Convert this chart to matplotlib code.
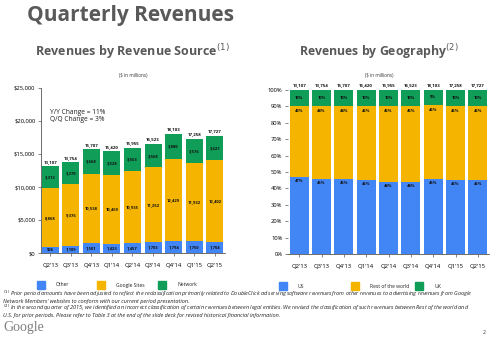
import matplotlib
matplotlib.use("Agg")
import matplotlib.pyplot as plt
import numpy as np

quarters = ["Q2'13", "Q3'13", "Q4'13", "Q1'14", "Q2'14", "Q3'14", "Q4'14", "Q1'15", "Q2'15"]
totals = [13107, 13754, 15707, 15420, 15955, 16523, 18103, 17258, 17727]
other = [926, 1109, 1501, 1423, 1457, 1703, 1794, 1750, 1704]
google_sites = [8868, 9376, 10538, 10469, 10935, 11252, 12429, 11932, 12402]
network = [3313, 3270, 3668, 3528, 3563, 3568, 3880, 3576, 3621]

us_pct = [47, 46, 46, 45, 44, 44, 46, 45, 45]
row_pct = [43, 44, 44, 45, 46, 46, 45, 45, 45]
uk_pct = [10, 10, 10, 10, 10, 10, 9, 10, 10]

left_ticks = [0, 5000, 10000, 15000, 20000, 25000]
left_ticklabels = ["$0", "$5,000", "$10,000", "$15,000", "$20,000", "$25,000"]
right_ticks = list(range(0, 101, 10))
right_ticklabels = [f"{t}%" for t in right_ticks]

BLUE = "#4285F4"
GOLD = "#F4B400"
GREEN = "#0F9D58"
GRAY = "#595959"

plt.rcParams['font.family'] = ['Open Sans', 'DejaVu Sans']

W, H = 490, 341
fig = plt.figure(figsize=(W / 100, H / 100), dpi=100)
fig.patch.set_facecolor("white")

def px_axes(x0, y0, x1, y1):
    return fig.add_axes([x0 / W, 1 - y1 / H, (x1 - x0) / W, (y1 - y0) / H])

def fmt(v):
    return f"{v:,}"

# Titles
fig.text(27 / W, 1 - 16 / H, "Quarterly Revenues", fontsize=15, fontweight="bold",
         color=GRAY, va="center", ha="left")
fig.text(133 / W, 1 - 52 / H, "Revenues by Revenue Source$^{(1)}$", fontsize=9,
         fontweight="bold", color=GRAY, va="center", ha="center")
fig.text(133 / W, 1 - 76 / H, "($ in millions)", fontsize=3.3, color="#333333",
         va="center", ha="center")
fig.text(379 / W, 1 - 52 / H, "Revenues by Geography$^{(2)}$", fontsize=8.8,
         fontweight="bold", color=GRAY, va="center", ha="center")
fig.text(379 / W, 1 - 76 / H, "($ in millions)", fontsize=3.3, color="#333333",
         va="center", ha="center")

x = np.arange(len(quarters))

# Left chart
ax1 = px_axes(41, 88, 225, 253)
w1 = 0.83
ax1.bar(x, other, w1, color=BLUE)
ax1.bar(x, google_sites, w1, bottom=other, color=GOLD)
base2 = np.array(other) + np.array(google_sites)
ax1.bar(x, network, w1, bottom=base2, color=GREEN)
ax1.set_xlim(-0.45, 8.5)
ax1.set_ylim(0, 25000)
ax1.set_yticks(left_ticks)
ax1.set_yticklabels(left_ticklabels)
ax1.set_xticks(x)
ax1.set_xticklabels(quarters)
ax1.tick_params(axis="y", labelsize=4.2, length=2, width=0.5, color="#555555", pad=2)
ax1.tick_params(axis="x", labelsize=4.2, length=2, width=0.5, color="#555555", pad=5)
for s in ["top", "right"]:
    ax1.spines[s].set_visible(False)
for s in ["left", "bottom"]:
    ax1.spines[s].set_color("#555555")
    ax1.spines[s].set_linewidth(0.6)
for i in range(len(quarters)):
    ax1.text(x[i], other[i] / 2, fmt(other[i]), ha="center", va="center",
             fontsize=3, fontweight="bold", color="#111111")
    ax1.text(x[i], other[i] + google_sites[i] / 2, fmt(google_sites[i]), ha="center",
             va="center", fontsize=3, fontweight="bold", color="#111111")
    ax1.text(x[i], base2[i] + network[i] / 2, fmt(network[i]), ha="center",
             va="center", fontsize=3, fontweight="bold", color="#111111")
    ax1.text(x[i], totals[i] + 400, fmt(totals[i]), ha="center", va="bottom",
             fontsize=3.2, fontweight="bold", color="#111111")
ax1.text(0.0, 20700, "Y/Y Change = 11%\nQ/Q Change = 3%", fontsize=4.8,
         ha="left", va="center", color="#222222", linespacing=1.0)

# Right chart
ax2 = px_axes(288, 90, 489, 254)
w2 = 0.85
ax2.bar(x, us_pct, w2, color=BLUE)
ax2.bar(x, row_pct, w2, bottom=us_pct, color=GOLD)
base_uk = np.array(us_pct) + np.array(row_pct)
ax2.bar(x, uk_pct, w2, bottom=base_uk, color=GREEN)
ax2.set_xlim(-0.5, 8.5)
ax2.set_ylim(0, 100)
ax2.set_yticks(right_ticks)
ax2.set_yticklabels(right_ticklabels)
ax2.set_xticks(x)
ax2.set_xticklabels(quarters)
ax2.tick_params(axis="y", labelsize=4.2, length=2, width=0.5, color="#555555", pad=2)
ax2.tick_params(axis="x", labelsize=4.2, length=2, width=0.5, color="#555555", pad=5)
for s in ["top", "right", "left"]:
    ax2.spines[s].set_visible(False)
ax2.spines["bottom"].set_color("#555555")
ax2.spines["bottom"].set_linewidth(0.6)
for i in range(len(quarters)):
    ax2.text(x[i], us_pct[i] - 2.5, f"{us_pct[i]}%", ha="center", va="center",
             fontsize=3, fontweight="bold", color="#111111")
    ax2.text(x[i], base_uk[i] - 3, f"{row_pct[i]}%", ha="center", va="center",
             fontsize=3, fontweight="bold", color="#111111")
    ax2.text(x[i], base_uk[i] + uk_pct[i] / 2, f"{uk_pct[i]}%", ha="center",
             va="center", fontsize=3, fontweight="bold", color="#111111")
    ax2.text(x[i], 101.5, fmt(totals[i]), ha="center", va="bottom",
             fontsize=3.2, fontweight="bold", color="#111111")

# Legends (manual)
def legend_item(xp, yp, color, label):
    fig.patches.append(plt.Rectangle(((xp - 4) / W, 1 - (yp + 4) / H), 8 / W, 8 / H,
                                     transform=fig.transFigure, color=color, figure=fig))
    fig.text((xp + 15) / W, 1 - yp / H, label, fontsize=3.6, va="center", ha="left",
             color="#222222")

legend_item(41, 285, BLUE, "Other")
legend_item(101, 285, GOLD, "Google Sites")
legend_item(162, 285, GREEN, "Network")
legend_item(283, 286, BLUE, "US")
legend_item(355, 286, GOLD, "Rest of the world")
legend_item(419, 286, GREEN, "UK")

notes = [
    "$^{(1)}$ Prior period amounts have been adjusted to reflect the reclassification primarily related to DoubleClick ad serving software revenues from other revenues to advertising revenues from Google",
    "Network Members' websites to conform with our current period presentation.",
    "$^{(2)}$ In the second quarter of 2015, we identified an incorrect classification of certain revenues between legal entities. We revised the classification of such revenues between Rest of the world and",
    "U.S. for prior periods. Please refer to Table 3 at the end of the slide deck for revised historical financial information.",
]
ys = [294, 301, 308, 315]
for t, yp in zip(notes, ys):
    fig.text(3 / W, 1 - yp / H, t, fontsize=4.0, style="italic", va="center",
             ha="left", color="#222222")

fig.text(3 / W, 1 - 328 / H, "Google", fontsize=10, family="Liberation Serif",
         color="#808080", va="center", ha="left")
fig.text(484 / W, 1 - 332 / H, "2", fontsize=3.8, color="#333333", va="center", ha="center")

fig.savefig("out.png", dpi=100, facecolor="white")
